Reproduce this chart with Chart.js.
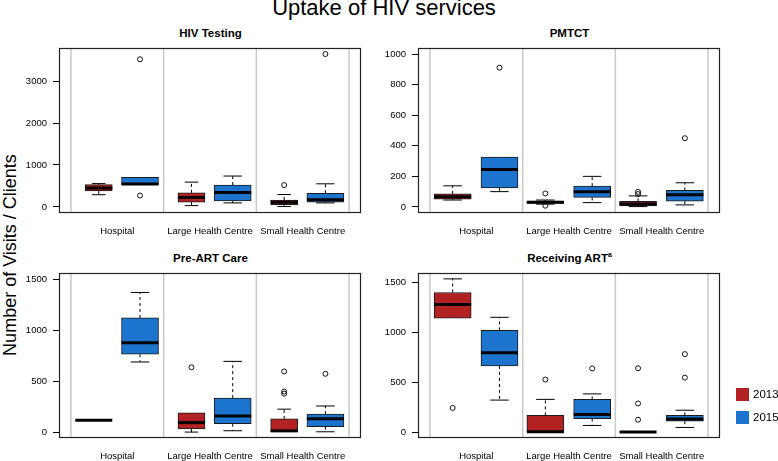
<!DOCTYPE html>
<html>
<head>
<meta charset="utf-8">
<script src="https://cdn.jsdelivr.net/npm/chart.js@4.4.1/dist/chart.umd.min.js"></script>
<style>
  body { margin: 0; background: #fff; font-family: "Liberation Sans", Arial, sans-serif; color: #000; }
  #wrap { position: relative; width: 778px; height: 461px; overflow: hidden; }
  canvas { position: absolute; }
  .txt { position: absolute; text-align: center; white-space: nowrap; }
  .ptitle { font-weight: bold; font-size: 11.5px; height: 14px; line-height: 14px; width: 303px; }
  .sw { position: absolute; width: 13px; height: 13px; left: 736px; }
  .lg { position: absolute; left: 753px; font-size: 11.5px; line-height: 14px; }
</style>
</head>
<body>
<div id="wrap">
  <div class="txt" style="left:-5px;top:-3px;width:778px;font-size:22px;line-height:22px;">Uptake of HIV services</div>
  <div class="txt" style="left:-140px;top:245px;width:300px;height:20px;line-height:20px;font-size:18px;transform:rotate(-90deg);">Number of Visits / Clients</div>

  <div class="txt ptitle" style="left:59px;top:26px;">HIV Testing</div>
  <div class="txt ptitle" style="left:418px;top:26px;">PMTCT</div>
  <div class="txt ptitle" style="left:59px;top:251px;">Pre-ART Care</div>
  <div class="txt ptitle" style="left:418px;top:251px;">Receiving ART<span style="font-size:7px;vertical-align:5px;line-height:0;">a</span></div>

  <canvas id="c1" width="366" height="207" style="left:0px;top:36px;"></canvas>
  <canvas id="c2" width="366" height="207" style="left:359px;top:36px;"></canvas>
  <canvas id="c3" width="366" height="207" style="left:0px;top:261px;"></canvas>
  <canvas id="c4" width="366" height="207" style="left:359px;top:261px;"></canvas>

  <div class="sw" style="top:388px;background:#B22222;"></div>
  <div class="lg" style="top:387px;">2013</div>
  <div class="sw" style="top:411px;background:#1C74CD;"></div>
  <div class="lg" style="top:410px;">2015</div>
</div>

<script>
const categories = ['Hospital', 'Large Health Centre', 'Small Health Centre'];
const years = ['2013', '2015'];

// five-number summaries per category: [lower whisker, Q1, median, Q3, upper whisker]
const testing2013 = [[290, 380, 450, 530, 555], [30, 110, 225, 335, 590], [8, 55, 110, 165, 295]];
const testing2015 = [[530, 530, 545, 705, 705], [95, 140, 340, 520, 735], [95, 110, 170, 325, 550]];
const testingOutliers2013 = [[], [], [520]];
const testingOutliers2015 = [[270, 3520], [], [3645]];
const testingTicks = [0, 1000, 2000, 3000];

const pmtct2013 = [[45, 50, 66, 85, 138], [18, 22, 30, 38, 45], [2, 6, 19, 36, 72]];
const pmtct2015 = [[100, 125, 245, 326, 326], [28, 62, 100, 136, 200], [13, 38, 80, 108, 158]];
const pmtctOutliers2013 = [[], [8, 88], [84, 98]];
const pmtctOutliers2015 = [[912], [], [450]];
const pmtctTicks = [0, 200, 400, 600, 800, 1000];

const preArt2013 = [[115, 115, 115, 115, 115], [0, 30, 93, 190, 190], [0, 0, 12, 130, 225]];
const preArt2015 = [[688, 765, 876, 1120, 1370], [13, 83, 157, 333, 694], [3, 54, 131, 176, 256]];
const preArtOutliers2013 = [[], [636], [377, 398, 595]];
const preArtOutliers2015 = [[], [], [572]];
const preArtTicks = [0, 500, 1000, 1500];

const art2013 = [[1143, 1143, 1281, 1402, 1539], [0, 0, 2, 167, 328], [0, 0, 0, 0, 0]];
const art2015 = [[321, 665, 796, 1022, 1153], [66, 134, 177, 328, 383], [46, 108, 131, 167, 219]];
const artOutliers2013 = [[242], [527], [124, 287, 641]];
const artOutliers2015 = [[], [639], [547, 783]];
const artTicks = [0, 500, 1000, 1500];

const fills = ['#B22222', '#1C74CD'];
Chart.defaults.font.family = '"Liberation Sans", Arial, sans-serif';
Chart.defaults.color = '#000';

// whiskers, medians, group separators and the frame
const boxParts = {
  id: 'boxParts',
  beforeDatasetsDraw(chart) {
    const ctx = chart.ctx, a = chart.chartArea, x = chart.scales.x;
    ctx.save();
    ctx.strokeStyle = '#c8c8c8';
    ctx.lineWidth = 1.5;
    [0.5, 1.5, 2.5, 3.5].forEach(v => {
      const px = x.getPixelForValue(v);
      ctx.beginPath(); ctx.moveTo(px, a.top); ctx.lineTo(px, a.bottom); ctx.stroke();
    });
    ctx.restore();
  },
  afterDatasetsDraw(chart) {
    const ctx = chart.ctx, y = chart.scales.y;
    const seg = (x1, y1, x2, y2) => { ctx.beginPath(); ctx.moveTo(x1, y1); ctx.lineTo(x2, y2); ctx.stroke(); };
    chart.data.datasets.forEach((ds, di) => {
      if (!ds.stats) return;
      chart.getDatasetMeta(di).data.forEach((bar, i) => {
        const s = ds.stats[i];
        const cx = bar.x, w = bar.width;
        const py = v => y.getPixelForValue(v);
        ctx.save();
        ctx.strokeStyle = '#000';
        ctx.lineWidth = 1;
        ctx.setLineDash([3, 3]);
        if (s[4] > s[3]) seg(cx, py(s[3]), cx, py(s[4]));
        if (s[0] < s[1]) seg(cx, py(s[1]), cx, py(s[0]));
        ctx.setLineDash([]);
        if (s[4] > s[3]) seg(cx - w / 4, py(s[4]), cx + w / 4, py(s[4]));
        if (s[0] < s[1]) seg(cx - w / 4, py(s[0]), cx + w / 4, py(s[0]));
        // a group with a single value is drawn as a full-width median line
        const mw = s[0] === s[4] ? 37 : w;
        ctx.lineWidth = 3;
        seg(cx + w / 2 - mw, py(s[2]), cx + w / 2, py(s[2]));
        ctx.restore();
      });
    });
  },
  afterDraw(chart) {
    const ctx = chart.ctx, a = chart.chartArea;
    ctx.save();
    ctx.strokeStyle = '#222';
    ctx.lineWidth = 1.2;
    ctx.strokeRect(Math.round(a.left) + 0.5, Math.round(a.top) + 0.5, Math.round(a.width) - 1, Math.round(a.height) - 1);
    ctx.restore();
  }
};

function makePanel(id, s13, s15, o13, o15, tickVals, yMin, yMax, widths, offsets) {
  const datasets = [];
  [[s13, o13], [s15, o15]].forEach(([stats, outs], k) => {
    datasets.push({
      type: 'bar',
      label: years[k],
      data: stats.map((s, i) => ({ x: i + 1 + offsets[k], y: [s[1], s[3]] })),
      stats: stats,
      backgroundColor: fills[k],
      borderColor: '#1b1b1b',
      borderWidth: 1,
      borderSkipped: false,
      barThickness: widths[k],
      grouped: false
    });
    datasets.push({
      type: 'scatter',
      label: years[k] + ' outliers',
      data: outs.flatMap((list, i) => list.map(v => ({ x: i + 1 + offsets[k], y: v }))),
      pointRadius: 2.5,
      pointBorderWidth: 1,
      pointBorderColor: '#111',
      pointBackgroundColor: 'rgba(0,0,0,0)',
      showLine: false
    });
  });

  new Chart(document.getElementById(id), {
    type: 'bar',
    data: { datasets: datasets },
    plugins: [boxParts],
    options: {
      responsive: false,
      animation: false,
      layout: { padding: { top: 8, right: 4, left: 0, bottom: 0 } },
      plugins: { legend: { display: false }, tooltip: { enabled: false }, title: { display: false } },
      scales: {
        x: {
          type: 'linear',
          min: 0.371,
          max: 3.629,
          offset: false,
          grid: { display: false, drawTicks: false },
          border: { display: false },
          afterBuildTicks: scale => { scale.ticks = categories.map((c, i) => ({ value: i + 1 })); },
          afterFit: scale => { scale.height = 30; },
          ticks: {
            autoSkip: false,
            maxRotation: 0,
            padding: 13,
            font: { size: 9.5 },
            callback: v => categories[v - 1]
          }
        },
        y: {
          min: yMin,
          max: yMax,
          grid: { display: true, drawOnChartArea: false, drawTicks: true, tickLength: 6, color: '#000' },
          border: { display: false },
          afterBuildTicks: scale => { scale.ticks = tickVals.map(v => ({ value: v })); },
          afterFit: scale => { scale.width = 59; },
          ticks: { padding: 6, font: { size: 9.5 }, callback: v => String(v) }
        }
      }
    }
  });
}

makePanel('c1', testing2013, testing2015, testingOutliers2013, testingOutliers2015, testingTicks, -146, 3796, [27, 37], [-0.2, 0.245]);
makePanel('c2', pmtct2013, pmtct2015, pmtctOutliers2013, pmtctOutliers2015, pmtctTicks, -40, 1043, [37, 37], [-0.255, 0.25]);
makePanel('c3', preArt2013, preArt2015, preArtOutliers2013, preArtOutliers2015, preArtTicks, -58, 1564, [27, 37], [-0.2, 0.245]);
makePanel('c4', art2013, art2015, artOutliers2013, artOutliers2015, artTicks, -60, 1601, [37, 37], [-0.255, 0.25]);
</script>
</body>
</html>
